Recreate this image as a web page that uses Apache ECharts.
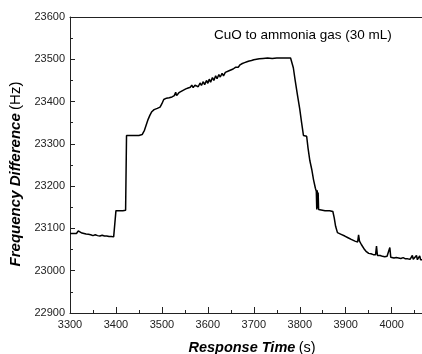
<!DOCTYPE html>
<html>
<head>
<meta charset="utf-8">
<script src="https://cdn.jsdelivr.net/npm/echarts@6/dist/echarts.min.js"></script>
<style>html,body{margin:0;padding:0;background:#fff}#c{width:422px;height:354px}</style>
</head>
<body>
<div id="c"></div>
<script>
var timeS = [3300,3303,3306,3310,3314,3318,3322,3326,3330,3335,3340,3345,3350,3355,3360,3365,3370,3375,3380,3385,3390,3395,3399,
3400,3405,3410,3415,3421,3423,3430,3440,3450,3457,3462,3466,3470,3474,3478,3483,3490,3496,3500,3504,3510,3516,3522,3527,3530,3532,3537,3542,3547,3552,3557,3562,3565,3568,3572,3576,3579,3583,3586,3590,3593,3597,3600,3603,3606,3610,3613,3617,3620,3624,3627,3631,3634,3638,3642,3646,3650,3655,3660,3663,3666,3670,3675,3680,3685,3690,3695,3700,3706,3712,3720,3730,3740,3750,3760,3770,3780,
3783,3786,3790,3795,3800,3804,3808,3815,3818,3822,3826,3830,3834,3836,3837,3838,3839,3840,3841,3845,3855,3865,3872,3875,3878,3882,3890,3898,3905,3912,3920,3926,3928,3930,3934,3938,3941,3945,3950,3955,3960,3965,3967,3969,3975,3980,3985,3990,3994,3996,3998,4005,4010,4015,4020,4025,4030,4035,4040,4043,4045,4047,4050,4054,4056,4059,4061,4063,4066];
var freqDiff = [23088,23085,23088,23090,23088,23094,23092,23089,23088,23087,23086,23085,23083,23085,23083,23082,23084,23082,23082,23081,23081,23080,23078,
23142,23142,23142,23142,23143,23320,23320,23320,23320,23322,23332,23345,23358,23368,23376,23381,23384,23387,23395,23405,23408,23409,23411,23414,23422,23414,23421,23424,23427,23430,23432,23434,23439,23433,23439,23441,23435,23444,23438,23447,23440,23450,23443,23453,23446,23457,23450,23461,23454,23464,23458,23467,23461,23469,23470,23473,23474,23477,23481,23485,23481,23487,23490,23492,23494,23496,23497,23499,23500,23501,23502,23503,23502,23503,23503,23503,23503,
23501,23480,23450,23415,23382,23350,23320,23318,23290,23260,23240,23215,23195,23188,23145,23190,23148,23185,23145,23143,23142,23142,23140,23125,23105,23090,23086,23082,23078,23074,23070,23068,23085,23070,23062,23058,23050,23045,23041,23040,23038,23038,23058,23036,23036,23034,23033,23034,23032,23055,23032,23030,23031,23030,23029,23031,23028,23028,23027,23028,23036,23027,23027,23036,23026,23027,23035,23026,23026];
var xTicks = [3300,3400,3500,3600,3700,3800,3900,4000];
var yTicks = [22900,23000,23100,23200,23300,23400,23500,23600];
var noteText = 'CuO to ammonia gas (30 mL)';

var data = timeS.map(function(t,i){return [t,freqDiff[i]];});
var chart = echarts.init(document.getElementById('c'), null, {renderer:'canvas'});
var FONT = '"Liberation Sans", Arial, sans-serif';
var axisCol = '#222';
chart.setOption({
  animation:false,
  backgroundColor:'#fff',
  grid:{left:70,top:17,right:0,bottom:41,containLabel:false,outerBoundsMode:'none'},
  xAxis:[{
    type:'value', min:xTicks[0], max:4066, interval:100, position:'bottom',
    axisLine:{show:true,lineStyle:{color:axisCol,width:1}},
    axisTick:{show:true,inside:true,length:6,lineStyle:{color:axisCol}},
    minorTick:{show:true,splitNumber:2,length:3,lineStyle:{color:axisCol}},
    splitLine:{show:false},
    axisLabel:{color:'#222',fontSize:11,fontFamily:FONT,margin:6,showMaxLabel:false,
      formatter:function(v){return xTicks.indexOf(v)>=0?String(v):'';}},
    name:'{b|Response Time} {n|(s)}', nameLocation:'middle', nameGap:27,
    nameTextStyle:{padding:[0,0,0,12],rich:{b:{fontSize:14.5,fontWeight:'bold',fontStyle:'italic',fontFamily:FONT,color:'#000'},n:{fontSize:14.5,fontFamily:FONT,color:'#000'}}}
  },{
    type:'value', min:xTicks[0], max:4066, position:'top',
    axisLine:{show:true,lineStyle:{color:axisCol,width:1}},
    axisTick:{show:false}, axisLabel:{show:false}, splitLine:{show:false}
  }],
  yAxis:{
    type:'value', min:yTicks[0], max:yTicks[yTicks.length-1], interval:100,
    axisLine:{show:true,lineStyle:{color:axisCol,width:1}},
    axisTick:{show:true,inside:true,length:5,lineStyle:{color:axisCol}},
    minorTick:{show:true,splitNumber:2,length:3,lineStyle:{color:axisCol}},
    splitLine:{show:false},
    axisLabel:{color:'#222',fontSize:11,fontFamily:FONT,margin:5,formatter:function(v){return String(v);}},
    name:'{b|Frequency Difference} {n|(Hz)}', nameLocation:'middle', nameGap:44,
    nameTextStyle:{padding:[0,18,0,0],rich:{b:{fontSize:15,fontWeight:'bold',fontStyle:'italic',fontFamily:FONT,color:'#000'},n:{fontSize:15,fontFamily:FONT,color:'#000'}}}
  },
  graphic:[{type:'text',left:214,top:28,style:{text:noteText,font:'13.5px "Liberation Sans", Arial, sans-serif',fill:'#000'}}],
  series:[{type:'line',xAxisIndex:0,data:data,showSymbol:false,symbol:'none',lineStyle:{color:'#000',width:1.5},clip:true}]
});
</script>
</body>
</html>
